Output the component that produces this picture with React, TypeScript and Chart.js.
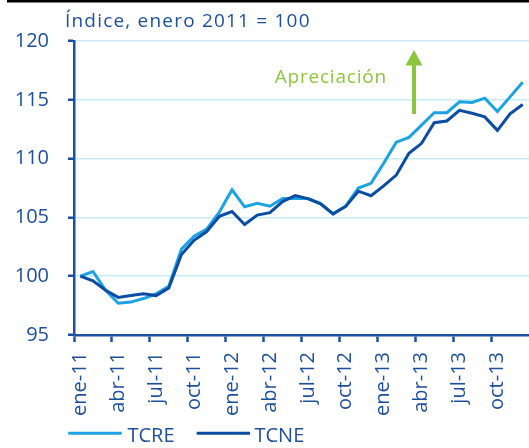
import React, { useEffect, useRef } from 'react';
import { Chart, registerables } from 'chart.js';

Chart.register(...registerables);

const categories = [
  'ene-11', 'feb-11', 'mar-11', 'abr-11', 'may-11', 'jun-11', 'jul-11', 'ago-11', 'sep-11', 'oct-11', 'nov-11', 'dic-11',
  'ene-12', 'feb-12', 'mar-12', 'abr-12', 'may-12', 'jun-12', 'jul-12', 'ago-12', 'sep-12', 'oct-12', 'nov-12', 'dic-12',
  'ene-13', 'feb-13', 'mar-13', 'abr-13', 'may-13', 'jun-13', 'jul-13', 'ago-13', 'sep-13', 'oct-13', 'nov-13', 'dic-13',
];

const tickLabels = ['ene-11', 'abr-11', 'jul-11', 'oct-11', 'ene-12', 'abr-12', 'jul-12', 'oct-12', 'ene-13', 'abr-13', 'jul-13', 'oct-13'];

const tcre = [
  100.0, 100.4, 98.8, 97.7, 97.8, 98.1, 98.5, 99.15, 102.3, 103.4, 104.0, 105.45,
  107.35, 105.9, 106.2, 105.95, 106.6, 106.6, 106.6, 106.2, 105.3, 105.96, 107.5, 107.9,
  109.6, 111.4, 111.8, 112.85, 113.9, 113.9, 114.83, 114.77, 115.14, 114.0, 115.25, 116.5,
];

const tcne = [
  100.0, 99.6, 98.8, 98.2, 98.35, 98.5, 98.35, 99.0, 101.85, 103.05, 103.8, 105.1,
  105.5, 104.4, 105.2, 105.4, 106.35, 106.85, 106.6, 106.16, 105.3, 105.93, 107.23, 106.84,
  107.68, 108.6, 110.45, 111.3, 113.05, 113.2, 114.1, 113.85, 113.55, 112.4, 113.8, 114.6,
];

const seriesNames = ['TCRE', 'TCNE'];
const yTicks = [95, 100, 105, 110, 115, 120];
const title = 'Índice, enero 2011 = 100';
const annotationText = 'Apreciación';
const arrowIndex = 26.4;
const arrowTop = 119.24;
const arrowBottom = 113.8;

const TEXT = '#1c4f9c';
const AXIS = '#1c51a0';
const GRID = '#c8ebf8';
const LIGHT = '#1ca3e3';
const DARK = '#0b4da2';
const GREEN = '#8cc63f';
const FONT = "'Open Sans', 'Noto Sans', sans-serif";

const overlay = {
  id: 'overlay',
  afterDraw(chart: any) {
    const ctx = chart.ctx as CanvasRenderingContext2D;
    const xs = chart.scales.x;
    const ys = chart.scales.y;
    ctx.save();
    // top rule
    ctx.fillStyle = '#000';
    ctx.fillRect(7, 0, 522, 2.5);

    // title
    ctx.fillStyle = TEXT;
    ctx.font = `19px ${FONT}`;
    (ctx as any).letterSpacing = '1.2px';
    ctx.textAlign = 'left';
    ctx.textBaseline = 'alphabetic';
    ctx.fillText(title, 65, 26.7);

    // arrow
    const ax = xs.getPixelForValue(arrowIndex);
    const yTop = ys.getPixelForValue(arrowTop);
    const yBot = ys.getPixelForValue(arrowBottom);
    ctx.strokeStyle = GREEN;
    ctx.lineWidth = 4;
    ctx.beginPath();
    ctx.moveTo(ax, yBot);
    ctx.lineTo(ax, yTop + 12);
    ctx.stroke();
    ctx.fillStyle = GREEN;
    ctx.beginPath();
    ctx.moveTo(ax, yTop);
    ctx.lineTo(ax + 8.5, yTop + 15.5);
    ctx.lineTo(ax - 8.5, yTop + 15.5);
    ctx.closePath();
    ctx.fill();

    // annotation text
    (ctx as any).letterSpacing = '0.8px';
    ctx.font = `19px ${FONT}`;
    ctx.fillStyle = GREEN;
    ctx.fillText(annotationText, ax - 139.3, yTop + 32.7);

    // legend
    (ctx as any).letterSpacing = '0px';
    ctx.font = `20px ${FONT}`;
    const items = [
      { name: seriesNames[0], color: LIGHT, x0: 68.3, x1: 121.7, tx: 127.5 },
      { name: seriesNames[1], color: DARK, x0: 196.7, x1: 250, tx: 254.5 },
    ];
    for (const it of items) {
      ctx.strokeStyle = it.color;
      ctx.lineWidth = 3;
      ctx.beginPath();
      ctx.moveTo(it.x0, 433.3);
      ctx.lineTo(it.x1, 433.3);
      ctx.stroke();
      ctx.fillStyle = TEXT;
      ctx.fillText(it.name, it.tx, 441.7);
    }
    ctx.restore();
  },
};

export default function App() {
  const ref = useRef<HTMLCanvasElement>(null);

  useEffect(() => {
    document.body.style.margin = '0';
    const canvas = ref.current;
    if (!canvas) return;
    const chart = new Chart(canvas, {
      type: 'line',
      data: {
        labels: categories,
        datasets: [
          {
            label: seriesNames[0],
            data: tcre,
            borderColor: LIGHT,
            backgroundColor: LIGHT,
            borderWidth: 3,
            pointRadius: 0,
            tension: 0,
            order: 1,
          },
          {
            label: seriesNames[1],
            data: tcne,
            borderColor: DARK,
            backgroundColor: DARK,
            borderWidth: 3,
            pointRadius: 0,
            tension: 0,
            order: 0,
          },
        ],
      },
      options: {
        responsive: false,
        animation: false,
        layout: { padding: { top: 41, left: 0, right: 0, bottom: 0 } },
        plugins: {
          legend: { display: false },
          tooltip: { enabled: false },
          title: { display: false },
        },
        scales: {
          x: {
            type: 'category',
            offset: true,
            grid: {
              offset: true,
              drawOnChartArea: false,
              drawTicks: true,
              tickLength: 7,
              tickWidth: 2.5,
              tickColor: (c: any) => (c.index % 3 === 0 ? AXIS : 'rgba(0,0,0,0)'),
            },
            border: { display: true, color: AXIS, width: 2.5 },
            ticks: {
              autoSkip: false,
              maxRotation: 90,
              minRotation: 90,
              padding: 10,
              color: TEXT,
              font: { family: FONT, size: 20 },
              callback: (_v: any, i: number) => (tickLabels.includes(categories[i]) ? categories[i] : ''),
            },
            afterFit: (s: any) => {
              s.height = 113;
              s.paddingLeft = 0;
              s.paddingRight = 0;
            },
          },
          y: {
            min: yTicks[0],
            max: yTicks[yTicks.length - 1],
            afterBuildTicks: (s: any) => {
              s.ticks = yTicks.map((v) => ({ value: v }));
            },
            grid: {
              color: GRID,
              lineWidth: 1.5,
              drawTicks: true,
              tickLength: 6,
              tickColor: AXIS,
              tickWidth: 2.5,
            },
            border: { display: true, color: AXIS, width: 2.5 },
            ticks: {
              padding: 19,
              color: TEXT,
              font: { family: FONT, size: 20 },
            },
            afterFit: (s: any) => {
              s.width = 74;
              s.paddingTop = 0;
              s.paddingBottom = 0;
            },
          },
        },
      },
      plugins: [overlay],
    });
    return () => chart.destroy();
  }, []);

  return (
    <div style={{ width: 529, height: 448, position: 'relative' }}>
      <canvas ref={ref} width={529} height={448} style={{ display: 'block' }} />
    </div>
  );
}
